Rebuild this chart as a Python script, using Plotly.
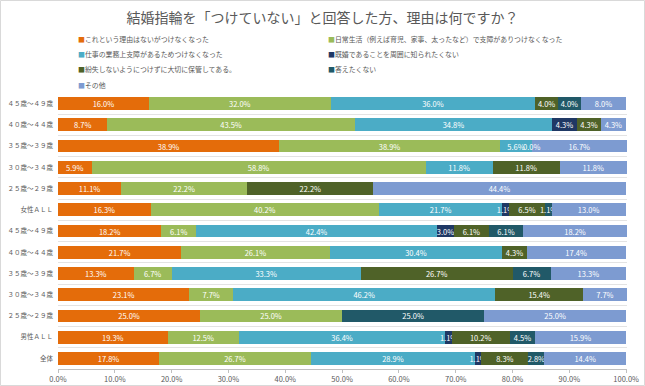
import plotly.graph_objects as go

# ---------------- data ----------------
categories = ["４５歳～４９歳", "４０歳～４４歳", "３５歳～３９歳", "３０歳～３４歳", "２５歳～２９歳",
              "女性ＡＬＬ",
              "４５歳～４９歳", "４０歳～４４歳", "３５歳～３９歳", "３０歳～３４歳", "２５歳～２９歳",
              "男性ＡＬＬ", "全体"]

series_names = [
    "これという理由はないがつけなくなった",
    "日常生活（例えば育児、家事、太ったなど）で支障がありつけなくなった",
    "仕事の業務上支障があるためつけなくなった",
    "既婚であることを周囲に知られたくない",
    "紛失しないようにつけずに大切に保管してある。",
    "答えたくない",
    "その他",
]

s_no_reason = [16.0, 8.7, 38.9, 5.9, 11.1, 16.3, 18.2, 21.7, 13.3, 23.1, 25.0, 19.3, 17.8]
s_daily     = [32.0, 43.5, 38.9, 58.8, 22.2, 40.2, 6.1, 26.1, 6.7, 7.7, 25.0, 12.5, 26.7]
s_work      = [36.0, 34.8, 5.6, 11.8, 0.0, 21.7, 42.4, 30.4, 33.3, 46.2, 0.0, 36.4, 28.9]
s_hide      = [0.0, 4.3, 0.0, 0.0, 0.0, 1.1, 3.0, 0.0, 0.0, 0.0, 0.0, 1.1, 1.1]
s_keep      = [4.0, 4.3, 0.0, 11.8, 22.2, 6.5, 6.1, 4.3, 26.7, 15.4, 0.0, 10.2, 8.3]
s_noanswer  = [4.0, 0.0, 0.0, 0.0, 0.0, 1.1, 6.1, 0.0, 6.7, 0.0, 25.0, 4.5, 2.8]
s_other     = [8.0, 4.3, 16.7, 11.8, 44.4, 13.0, 18.2, 17.4, 13.3, 7.7, 25.0, 15.9, 14.4]

# zero values whose label is still printed in the source chart: (row index, series index)
shown_zero_labels = [(2, 3)]

x_ticks = [0, 10, 20, 30, 40, 50, 60, 70, 80, 90, 100]

series_values = [s_no_reason, s_daily, s_work, s_hide, s_keep, s_noanswer, s_other]
colors = ["#E46C0A", "#9BBB59", "#4BACC6", "#1F3864", "#4F6228", "#215968", "#7D9BD1"]

FONT = "Noto Sans CJK JP"
GRAY = "#595959"

W, H = 645, 386
ML, MR, MT, MB = 58, 18, 93, 17
PW, PH = W - ML - MR, H - MT - MB


def px_to_paper(px, py):
    return (px - ML) / PW, (H - MB - py) / PH


rows = list(range(len(categories)))
# rounded shares can add up to 100.1 %, keep the axis just wide enough so no label is dropped
x_max = max(100.0, max(sum(col) for col in zip(*series_values)) + 0.05)

fig = go.Figure()
for name, vals, col in zip(series_names, series_values, colors):
    fig.add_trace(go.Bar(
        y=rows, x=vals, name=name, orientation="h",
        marker=dict(color=col, line=dict(width=0)),
        text=[f"{v:.1f}%" if v > 0 else "" for v in vals],
        textposition="inside", insidetextanchor="middle", textangle=0,
        textfont=dict(family=FONT, size=7.5, color="white"),
        cliponaxis=False, showlegend=False,
        hoverinfo="skip",
    ))

annotations = []
# labels of zero-width segments that the original still prints
for r, s in shown_zero_labels:
    pos = sum(series_values[k][r] for k in range(s))
    annotations.append(dict(x=pos, y=r, xref="x", yref="y", text=f"{series_values[s][r]:.1f}%",
                            showarrow=False, font=dict(family=FONT, size=7.5, color="white")))

# two-column legend (compact, like the original)
leg_cols_px = [76, 326]
leg_rows_px = [39, 54, 69, 85]
for i, (name, col) in enumerate(zip(series_names, colors)):
    lx, ly = px_to_paper(leg_cols_px[i % 2], leg_rows_px[i // 2])
    annotations.append(dict(
        x=lx, y=ly, xref="paper", yref="paper", xanchor="left", yanchor="middle",
        text=f'<span style="color:{col}">■</span>{name}', showarrow=False,
        font=dict(family=FONT, size=6.9, color=GRAY)))

bx0, by0 = px_to_paper(0.5, H - 0.5)
bx1, by1 = px_to_paper(W - 0.5, 0.5)

fig.update_layout(
    width=W, height=H,
    barmode="stack", bargap=0.4,
    plot_bgcolor="white", paper_bgcolor="white",
    margin=dict(l=ML, r=MR, t=MT, b=MB, autoexpand=False),
    font=dict(family=FONT, color=GRAY),
    showlegend=False,
    title=dict(text="結婚指輪を「つけていない」と回答した方、理由は何ですか？",
               x=0.5, xref="container", xanchor="center",
               y=1 - 18 / H, yref="container", yanchor="middle",
               font=dict(family=FONT, size=14, color=GRAY)),
    uniformtext=dict(minsize=7.5, mode="show"),
    annotations=annotations,
    shapes=[dict(type="rect", xref="paper", yref="paper",
                 x0=bx0, x1=bx1, y0=by0, y1=by1,
                 line=dict(color="#D9D9D9", width=1), fillcolor="rgba(0,0,0,0)", layer="below")],
)

fig.update_xaxes(range=[0, x_max], tickvals=x_ticks, ticktext=[f"{v:.1f}%" for v in x_ticks],
                 showgrid=False, zeroline=False, showline=True, linecolor="#BFBFBF", linewidth=1,
                 ticks="outside", ticklen=3, tickcolor="#BFBFBF", automargin=False,
                 tickfont=dict(family=FONT, size=7.5, color=GRAY), fixedrange=True)
fig.update_yaxes(range=[len(categories) - 0.5, -0.5], tickvals=rows, ticktext=categories,
                 showgrid=False, zeroline=False, showline=False, ticks="", automargin=False,
                 minor=dict(tick0=0.5, dtick=1, showgrid=True, gridcolor="#E3E3E3", gridwidth=1, ticks=""),
                 tickfont=dict(family=FONT, size=6.5, color=GRAY), ticklabelstandoff=4, fixedrange=True)

fig.write_html("out.html",
               post_script="document.body.style.margin='0';document.body.style.padding='0';",
               config={"displayModeBar": False})
